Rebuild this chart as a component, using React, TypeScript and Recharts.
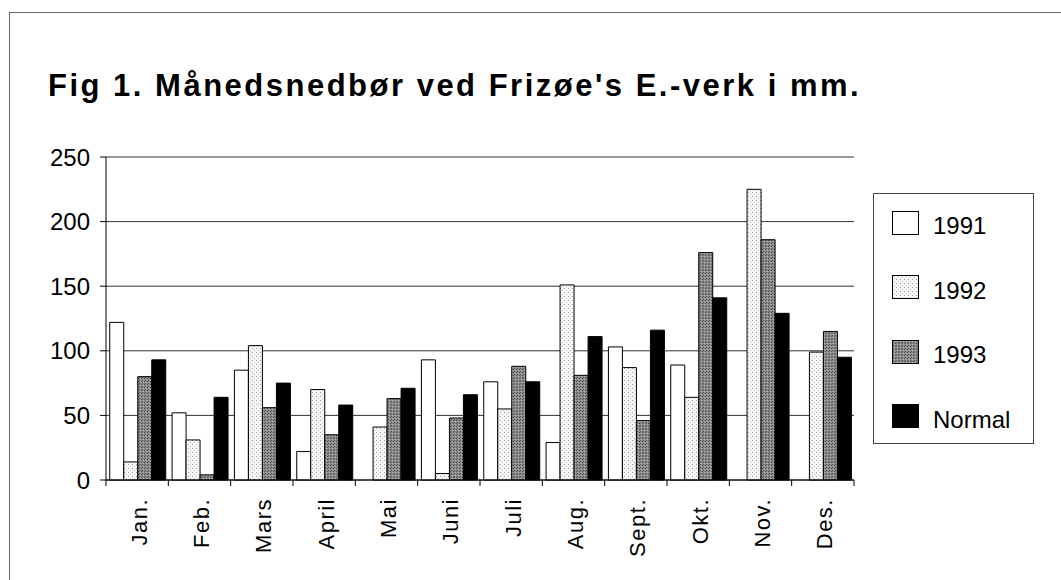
import { Bar, BarChart, CartesianGrid, XAxis, YAxis } from "recharts";

const MONTHS = ["Jan.", "Feb.", "Mars", "April", "Mai", "Juni", "Juli", "Aug.", "Sept.", "Okt.", "Nov.", "Des."];
const Y1991 = [122, 52, 85, 22, null, 93, 76, 29, 103, 89, null, null];
const Y1992 = [14, 31, 104, 70, 41, 5, 55, 151, 87, 64, 225, 99];
const Y1993 = [80, 4, 56, 35, 63, 48, 88, 81, 46, 176, 186, 115];
const NORMAL = [93, 64, 75, 58, 71, 66, 76, 111, 116, 141, 129, 95];
const Y_TICKS = [0, 50, 100, 150, 200, 250];

const SERIES = [
  { key: "y1991", label: "1991", fill: "#ffffff" },
  { key: "y1992", label: "1992", fill: "url(#dotsLight)" },
  { key: "y1993", label: "1993", fill: "url(#dotsDark)" },
  { key: "normal", label: "Normal", fill: "#000000" },
];

const data = MONTHS.map((month, i) => ({
  month,
  y1991: Y1991[i],
  y1992: Y1992[i],
  y1993: Y1993[i],
  normal: NORMAL[i],
}));

const FONT = "'Liberation Sans', Arial, sans-serif";
const PLOT_LEFT = 106;
const PLOT_RIGHT = 854;
const BAND = (PLOT_RIGHT - PLOT_LEFT) / MONTHS.length;

function MonthTick({ x, y, payload, index }: any) {
  const half = BAND / 2;
  return (
    <g>
      <line x1={x - half} x2={x - half} y1={y} y2={y + 6} stroke="#000" />
      {index === MONTHS.length - 1 && (
        <line x1={x + half} x2={x + half} y1={y} y2={y + 6} stroke="#000" />
      )}
      <text
        transform={`translate(${x + 2},${y + 18}) rotate(-90)`}
        textAnchor="end"
        dominantBaseline="central"
        fontSize={22}
        letterSpacing={1.5}
        fontFamily={FONT}
        fill="#000"
      >
        {payload.value}
      </text>
    </g>
  );
}

function Patterns() {
  return (
    <svg width={0} height={0} style={{ position: "absolute" }}>
      <defs>
        <pattern id="dotsLight" width={4} height={4} patternUnits="userSpaceOnUse">
          <rect width={4} height={4} fill="#f6f6f6" />
          <rect x={0} y={0} width={1} height={1} fill="#a0a0a0" />
          <rect x={2} y={2} width={1} height={1} fill="#c8c8c8" />
        </pattern>
        <pattern id="dotsDark" width={3} height={3} patternUnits="userSpaceOnUse">
          <rect width={3} height={3} fill="#8c8c8c" />
          <rect x={0} y={0} width={1} height={1} fill="#4a4a4a" />
          <rect x={2} y={1} width={1} height={1} fill="#b5b5b5" />
          <rect x={1} y={2} width={1} height={1} fill="#555" />
        </pattern>
      </defs>
    </svg>
  );
}

export default function App() {
  return (
    <div style={{ position: "absolute", left: 0, top: 0, width: 1061, height: 580, background: "#fff", fontFamily: FONT }}>
      <Patterns />
      <div
        style={{
          position: "absolute",
          left: 9,
          top: 12,
          width: 1052,
          height: 568,
          borderLeft: "1px solid #666",
          borderTop: "1px solid #666",
        }}
      />
      <div
        style={{
          position: "absolute",
          left: 48,
          top: 68,
          fontSize: 31,
          fontWeight: 700,
          letterSpacing: 2.5,
          whiteSpace: "nowrap",
          color: "#000",
        }}
      >
        Fig 1. Månedsnedbør ved Frizøe's E.-verk i mm.
      </div>

      <div style={{ position: "absolute", left: 0, top: 0 }}>
        <BarChart
          width={1061}
          height={580}
          data={data}
          margin={{ top: 157, right: 1061 - PLOT_RIGHT, bottom: 10, left: PLOT_LEFT - 60 }}
          barCategoryGap="6%"
          barGap={0}
        >
          <CartesianGrid vertical={false} stroke="#333" />
          <XAxis
            dataKey="month"
            height={90}
            interval={0}
            tickSize={0}
            tickMargin={0}
            tickLine={false}
            axisLine={{ stroke: "#000" }}
            tick={(props: any) => <MonthTick {...props} />}
          />
          <YAxis
            width={60}
            domain={[0, 250]}
            ticks={Y_TICKS}
            interval={0}
            tickSize={6}
            tickMargin={10}
            axisLine={{ stroke: "#000" }}
            tickLine={{ stroke: "#000" }}
            tick={{ fontSize: 24, fill: "#000", fontFamily: FONT }}
          />
          {SERIES.map((s) => (
            <Bar
              key={s.key}
              dataKey={s.key}
              name={s.label}
              fill={s.fill}
              stroke="#000"
              strokeWidth={1}
              isAnimationActive={false}
            />
          ))}
        </BarChart>
      </div>

      <div
        style={{
          position: "absolute",
          left: 873,
          top: 193,
          width: 161,
          height: 251,
          border: "1px solid #444",
          boxSizing: "border-box",
        }}
      >
        {SERIES.map((s, i) => (
          <div
            key={s.key}
            style={{
              position: "absolute",
              left: 18,
              top: 16 + i * 64.5,
              height: 25,
              display: "flex",
              alignItems: "center",
              fontSize: 24,
              color: "#000",
            }}
          >
            <svg width={27} height={24} style={{ marginRight: 14 }}>
              <rect x={0.5} y={0.5} width={26} height={23} fill={s.fill} stroke="#000" strokeWidth={1} />
            </svg>
            <span style={{ lineHeight: "25px", position: "relative", top: 3 }}>{s.label}</span>
          </div>
        ))}
      </div>
    </div>
  );
}
